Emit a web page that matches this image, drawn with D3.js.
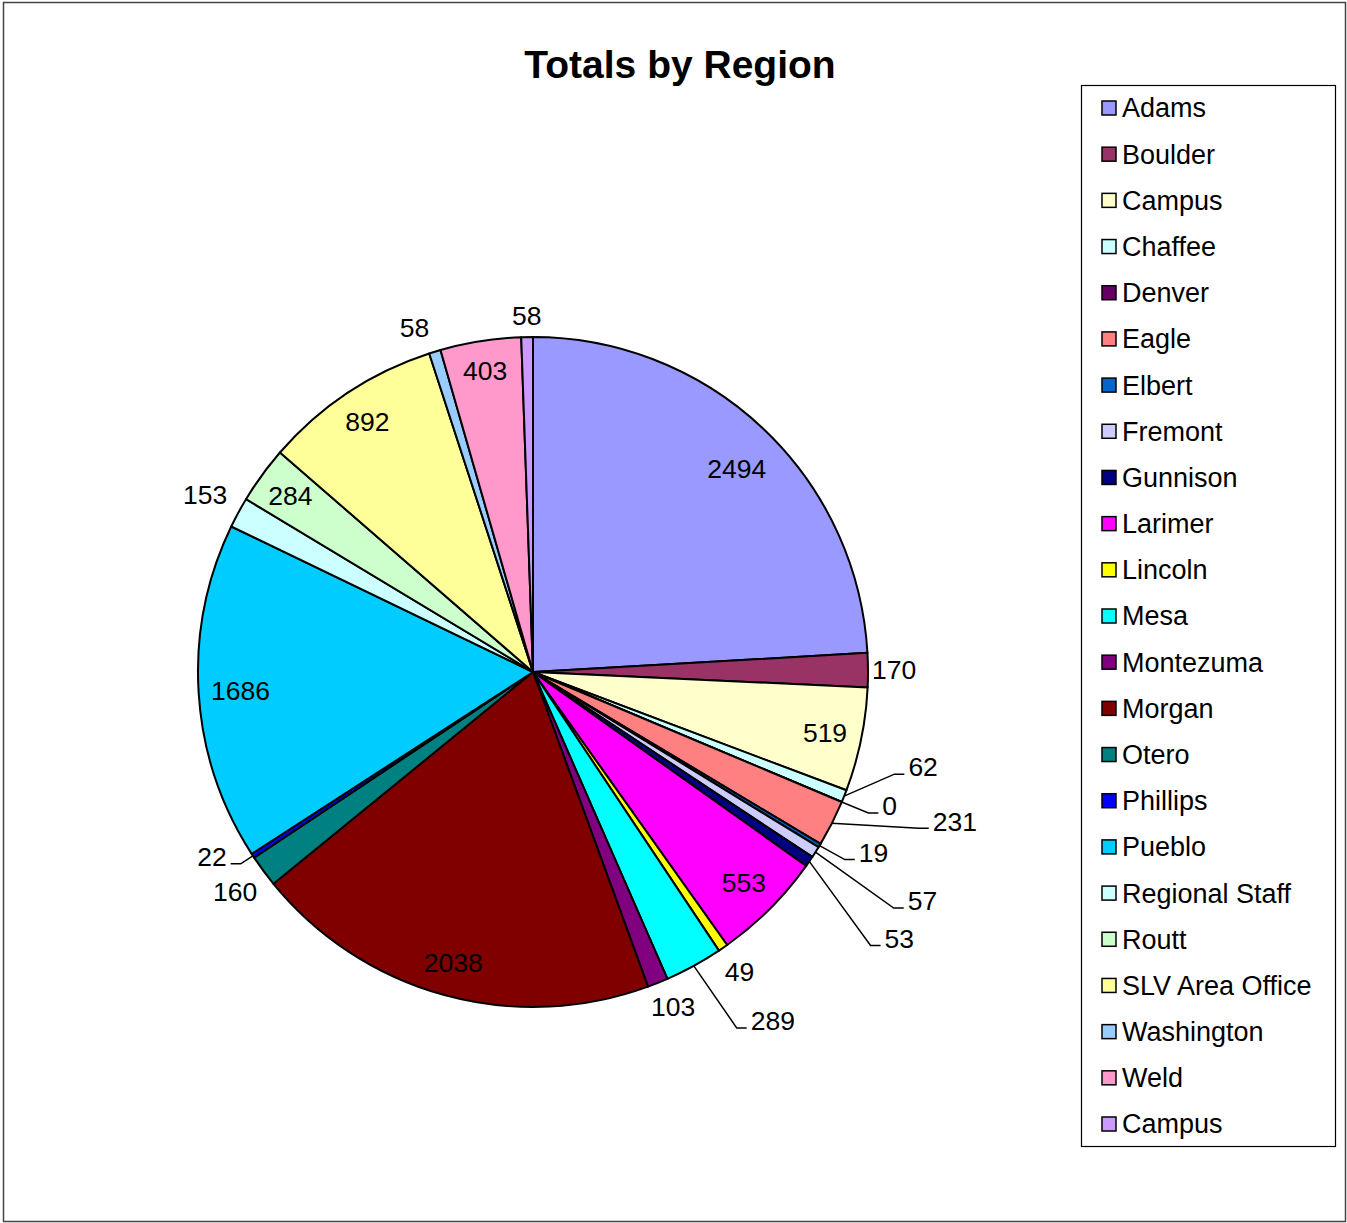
<!DOCTYPE html>
<html>
<head>
<meta charset="utf-8">
<script src="https://cdn.jsdelivr.net/npm/d3@7"></script>
<style>
  body { margin: 0; background: #fff; }
  text { font-family: Arial, "Liberation Sans", sans-serif; fill: #000; }
</style>
</head>
<body>
<div id="main"></div>
<script>
const regions = ["Adams", "Boulder", "Campus", "Chaffee", "Denver", "Eagle", "Elbert", "Fremont",
    "Gunnison", "Larimer", "Lincoln", "Mesa", "Montezuma", "Morgan", "Otero", "Phillips", "Pueblo",
    "Regional Staff", "Routt", "SLV Area Office", "Washington", "Weld", "Campus"];
const totals = [2494, 170, 519, 62, 0, 231, 19, 57, 53, 553, 49, 289, 103, 2038, 160, 22, 1686,
    153, 284, 892, 58, 403, 58];
const colors = ["#9999FF", "#993366", "#FFFFCC", "#CCFFFF", "#660066", "#FF8080", "#0066CC", "#CCCCFF",
    "#000080", "#FF00FF", "#FFFF00", "#00FFFF", "#800080", "#800000", "#008080", "#0000FF", "#00CCFF",
    "#CCFFFF", "#CCFFCC", "#FFFF99", "#99CCFF", "#FF99CC", "#CC99FF"];

// where each data label goes: inside, outside (radius factor) or with a leader line (offset from rim)
const labelPlacement = [
    {pos: "in", r: 0.86, dx: 6, dy: 6}, {pos: "out", r: 1.078}, {pos: "in", r: 0.89},
    {pos: "lead", dx: 79, dy: -29}, {pos: "lead", dx: 48, dy: 4}, {pos: "lead", dx: 123, dy: -2},
    {pos: "lead", dx: 54, dy: 7}, {pos: "lead", dx: 107, dy: 49}, {pos: "lead", dx: 90, dy: 77},
    {pos: "in", r: 0.89}, {pos: "out", r: 1.087}, {pos: "lead", dx: 79, dy: 55},
    {pos: "out", r: 1.09, dx: 4, dy: -4}, {pos: "in", r: 0.9}, {pos: "out", r: 1.105}, {pos: "lead", dx: -41, dy: 1},
    {pos: "in", r: 0.875}, {pos: "out", r: 1.113}, {pos: "in", r: 0.895}, {pos: "in", r: 0.895},
    {pos: "out", r: 1.075, dx: -13}, {pos: "in", r: 0.91}, {pos: "out", r: 1.063}
];

const width = 1347;
const height = 1223;
const cx = 533, cy = 672, radius = 335;

const svg = d3.select("#main")
    .append("svg")
    .attr("width", width)
    .attr("height", height);

// chart area border
svg.append("rect")
    .attr("x", 3.5).attr("y", 2.5)
    .attr("width", width - 5).attr("height", height - 4)
    .attr("fill", "#fff")
    .attr("stroke", "#444")
    .attr("stroke-width", 1.5);

svg.append("text")
    .attr("x", 680)
    .attr("y", 78)
    .attr("text-anchor", "middle")
    .style("font-size", "39px")
    .style("font-weight", "bold")
    .text("Totals by Region");

const pie = d3.pie().sort(null).value(d => d);
const arcs = pie(totals);
const arc = d3.arc().innerRadius(0).outerRadius(radius);

const g = svg.append("g").attr("transform", "translate(" + cx + "," + cy + ")");

g.selectAll("path.slice")
    .data(arcs)
    .join("path")
    .attr("class", "slice")
    .attr("d", arc)
    .attr("fill", (d, i) => colors[i])
    .attr("stroke", "#000")
    .attr("stroke-width", 2)
    .attr("stroke-linejoin", "round");

const midAngle = d => (d.startAngle + d.endAngle) / 2;
const polar = (a, r) => [r * Math.sin(a), -r * Math.cos(a)];

const labels = g.append("g");
arcs.forEach((d, i) => {
    const p = labelPlacement[i];
    const a = midAngle(d);
    if (p.pos === "lead") {
        const rim = polar(a, radius);
        const tx = rim[0] + p.dx, ty = rim[1] + p.dy;
        const t = labels.append("text")
            .attr("x", tx).attr("y", ty)
            .attr("dy", "0.35em")
            .attr("text-anchor", "middle")
            .style("font-size", "26.5px")
            .text(totals[i]);
        const w = t.node().getComputedTextLength();
        const side = p.dx > 0 ? 1 : -1;
        const xEnd = tx - side * (w / 2 + 4);
        const yEnd = ty + 7;
        labels.append("polyline")
            .attr("points", [rim, [xEnd - side * 10, yEnd], [xEnd, yEnd]].map(q => q.join(",")).join(" "))
            .attr("fill", "none")
            .attr("stroke", "#000")
            .attr("stroke-width", 1.5);
    } else {
        const q = polar(a, radius * p.r);
        labels.append("text")
            .attr("x", q[0] + (p.dx || 0)).attr("y", q[1] + (p.dy || 0))
            .attr("dy", "0.35em")
            .attr("text-anchor", "middle")
            .style("font-size", "26.5px")
            .text(totals[i]);
    }
});

// legend
const legendX = 1081, legendY = 85, legendW = 254, legendH = 1061;
const rowY = d3.scaleLinear().domain([0, regions.length - 1]).range([108, 1124]);

const legend = svg.append("g");
legend.append("rect")
    .attr("x", legendX + 0.5).attr("y", legendY + 0.5)
    .attr("width", legendW).attr("height", legendH)
    .attr("fill", "#fff")
    .attr("stroke", "#000")
    .attr("stroke-width", 1.2);

const rows = legend.selectAll("g.row")
    .data(regions)
    .join("g")
    .attr("class", "row")
    .attr("transform", (d, i) => "translate(0," + rowY(i) + ")");

rows.append("rect")
    .attr("x", 1102).attr("y", -7)
    .attr("width", 14).attr("height", 14)
    .attr("fill", (d, i) => colors[i])
    .attr("stroke", "#000")
    .attr("stroke-width", 1.5);

rows.append("text")
    .attr("x", 1122)
    .attr("dy", "0.35em")
    .style("font-size", "27px")
    .text(d => d);
</script>
</body>
</html>
